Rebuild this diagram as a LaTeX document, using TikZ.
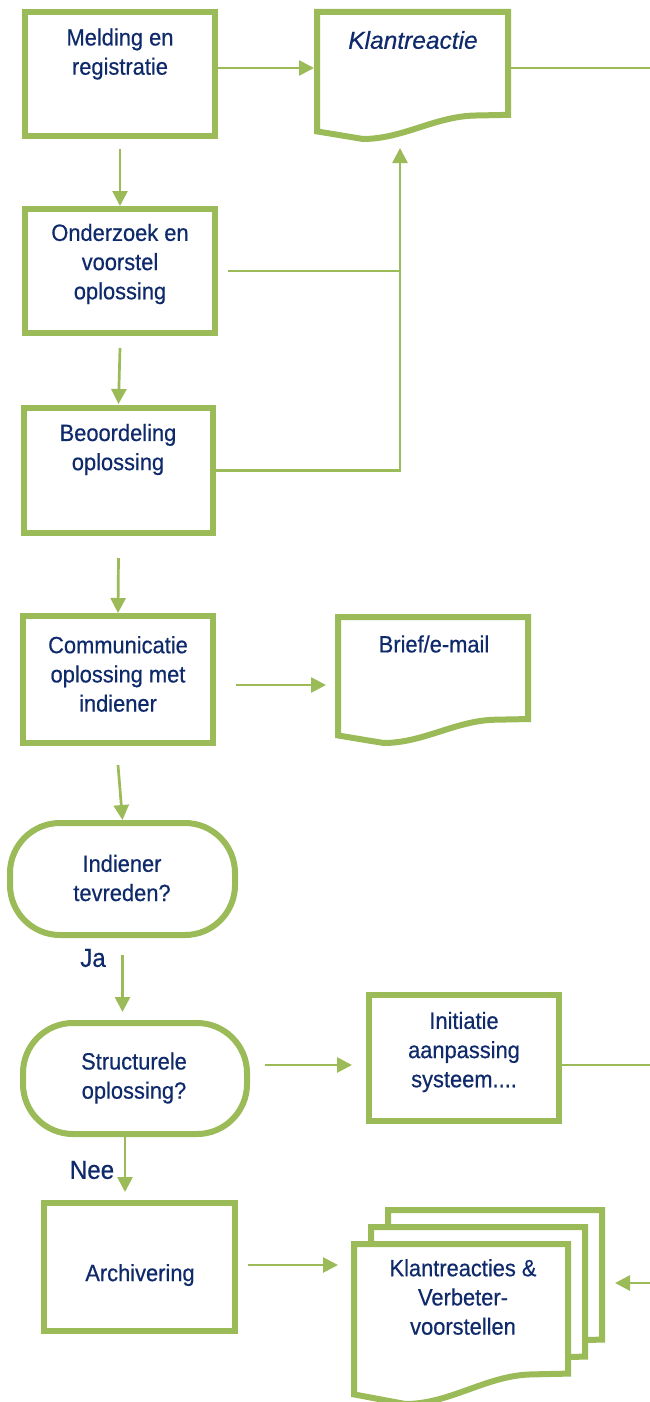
\documentclass[tikz,border=0pt]{standalone}
\usepackage{fontspec}
\setmainfont{Liberation Sans}[FakeStretch=0.93,FakeBold=0.5,
  ItalicFeatures={FakeStretch=1.0}]
\usetikzlibrary{arrows.meta}
\definecolor{grn}{HTML}{9BBB59}
\definecolor{nav}{HTML}{0F2A6B}
\newcommand{\docpath}[4]{%
  \draw[docline] (#1,#2) -- (#1+#3,#2) -- (#1+#3,#2+0.81*#4) -- (#1+0.83*#3,#2+0.815*#4)
    .. controls (#1+0.62*#3,#2+0.82*#4) and (#1+0.45*#3,#2+1.0*#4) .. (#1+0.24*#3,#2+1.0*#4)
    -- (#1,#2+0.94*#4) -- cycle;}
\begin{document}
\begin{tikzpicture}[x=1pt,y=-1pt,
  box/.style={draw=grn, line width=6pt, fill=white, inner sep=0pt},
  term/.style={box, rounded corners=50pt},
  docline/.style={draw=grn, line width=6pt, fill=white, line join=miter},
  docn/.style={inner sep=0pt, outer sep=3pt},
  con/.style={draw=grn, line width=2.7pt},
  arr/.style={con, -{Triangle[length=15pt,width=15pt]}},
  txt/.style={text=nav, align=center, font=\fontsize{23.5}{29.2}\selectfont, inner sep=0pt},
  lbl/.style={text=nav, font=\fontsize{26}{30}\selectfont, inner sep=0pt}]
\useasboundingbox[fill=white] (0,0) rectangle (650,1402);

% boxes
\node[box, minimum width=190pt, minimum height=124pt] (b1) at (120,74) {};
\node[box, minimum width=190pt, minimum height=124pt] (b2) at (120,271) {};
\node[box, minimum width=189pt, minimum height=125pt] (b3) at (118.5,470.5) {};
\node[box, minimum width=190pt, minimum height=127pt] (b4) at (118,679.5) {};
\node[term, minimum width=225pt, minimum height=112pt] (ind) at (122.5,879) {};
\node[term, minimum width=224pt, minimum height=111pt] (str) at (135,1078.5) {};
\node[box, minimum width=190pt, minimum height=126pt] (init) at (464,1058) {};
\node[box, minimum width=191pt, minimum height=128pt] (arch) at (139.5,1267) {};

% documents
\docpath{317}{12}{191}{127}
\node[docn, minimum width=191pt, minimum height=127pt] (kr) at (412.5,75.5) {};
\docpath{338}{617}{190}{126}
\node[docn, minimum width=190pt, minimum height=126pt] (brief) at (433,680) {};
\docpath{388}{1210}{214}{160}
\docpath{371}{1227}{214}{160}
\docpath{354}{1244}{214}{160}
\node[docn, minimum width=214pt, minimum height=160pt] (front) at (461,1324) {};
\node[docn, minimum width=214pt, minimum height=160pt] (back) at (495,1290) {};

% texts
\node[txt] (t1) at (120,54) {Melding en\\registratie};
\node[txt, font=\fontsize{24.5}{29.5}\selectfont\itshape] (tkr) at (413,40) {Klantreactie};
\node[txt] (t2) at (120,264) {Onderzoek en\\voorstel\\oplossing};
\node[txt] (t3) at (118,449.5) {Beoordeling\\oplossing};
\node[txt] (t4) at (118,674) {Communicatie\\oplossing met\\indiener};
\node[txt] (tb) at (434,644) {Brief/e-mail};
\node[txt] (ti) at (122,878) {Indiener\\tevreden?};
\node[lbl] (ja) at (93,958) {Ja};
\node[txt] (ts) at (134,1078) {Structurele\\oplossing?};
\node[txt] (tin) at (464,1052) {Initiatie\\aanpassing\\systeem....};
\node[lbl] (nee) at (92,1170) {Nee};
\node[txt] (ta) at (140,1275) {Archivering};
\node[txt] (tk) at (463,1297) {Klantreacties \&\\Verbeter-\\voorstellen};

% connector end points
\coordinate (e1) at (650,68);
\coordinate (e2) at (650,1065);
\coordinate (e3) at (650,1283);
\coordinate (j) at (400,0);
\coordinate (s1) at ([yshift=6pt]b1.east);
\coordinate (s4) at ([xshift=20pt,yshift=-5.5pt]b4.east);
\coordinate (s5) at ([yshift=-17pt]ind.south);
\coordinate (s6) at ([xshift=15pt,yshift=13.5pt]str.east);
\coordinate (s7) at ([xshift=-10pt]str.south);
\coordinate (s8) at ([xshift=10pt,yshift=2pt]arch.east);

% connectors
\draw[arr] (s1) -- (s1 -| kr.west);
\draw[con] (kr.east |- e1) -- (e1);
\draw[arr] ([yshift=-10pt]b1.south) -- (b2.north);
\draw[con] ([xshift=10pt]b2.east) -- (b2.east -| j);
\draw[arr] (b3.east) -- (b3.east -| j) -- ([yshift=-6pt]kr.south -| j);
\draw[arr] ([yshift=-12pt]b2.south) -- ([yshift=1pt]b3.north);
\draw[arr] ([yshift=-22pt]b3.south) -- (b4.north);
\draw[arr, shorten >=9pt] (s4) -- (s4 -| brief.west);
\draw[arr] ([yshift=-19pt]b4.south) -- (ind.north);
\draw[arr, shorten >=8pt] (s5) -- (s5 |- str.north);
\draw[arr, shorten >=14pt] (s6) -- (s6 -| init.west);
\draw[con] ([yshift=-7pt]init.east) -- (e2 -| init.east) -- (e2);
\draw[arr, shorten >=8pt] (s7) -- (s7 |- arch.north);
\draw[arr, shorten >=13pt] (s8) -- (s8 -| front.west);
\draw[arr, shorten >=10pt] (e3) -- (e3 -| back.east);
\end{tikzpicture}
\end{document}
